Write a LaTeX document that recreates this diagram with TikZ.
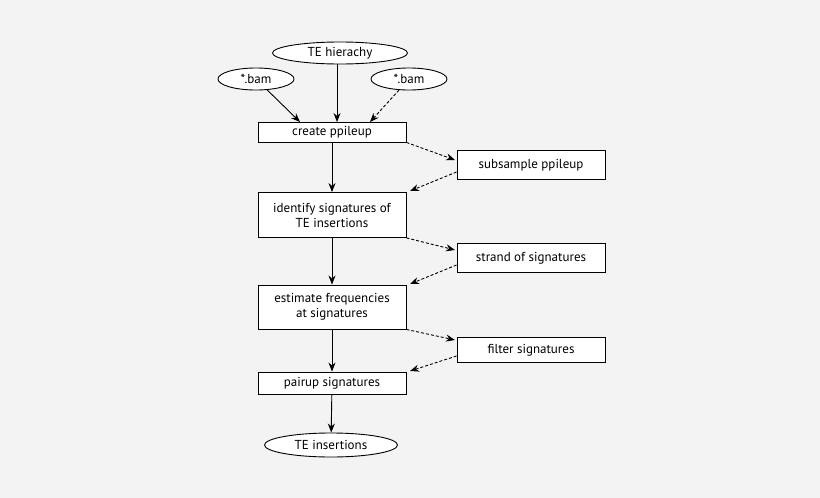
\documentclass[tikz,border=0pt]{standalone}
\usetikzlibrary{shapes.geometric,arrows.meta}
\usepackage{fontspec}
\setmainfont{PT Sans}
\begin{document}
\begin{tikzpicture}[x=1pt,y=-1pt,
  every node/.style={font=\fontsize{13}{15}\selectfont,align=center,inner sep=0pt,line width=0.9pt,draw=black,fill=white},
  box/.style={rectangle,minimum width=148pt},
  ell/.style={ellipse,minimum height=22pt},
  arr/.style={-{Stealth[length=9pt,width=7pt]},line width=0.9pt},
  darr/.style={arr,dash pattern=on 3pt off 2pt}]
\useasboundingbox[fill={rgb,255:red,243;green,243;blue,243}] (0,0) rectangle (820,498);
\node[ell,minimum width=135pt] (te) at (340,53) {TE hierachy};
\node[ell,minimum width=76pt] (b1) at (256,79) {*.bam};
\node[ell,minimum width=76pt] (b2) at (409,79) {*.bam};
\node[box,minimum height=20pt] (cp) at (332,132) {create ppileup};
\node[box,minimum height=29pt] (sp) at (531,165) {subsample ppileup};
\node[box,minimum height=45pt] (id) at (332,215) {identify signatures of\\TE insertions};
\node[box,minimum height=29pt] (st) at (531,258) {strand of signatures};
\node[box,minimum height=44pt] (es) at (332,307) {estimate frequencies\\at signatures};
\node[box,minimum height=25pt] (fi) at (531,350) {filter signatures};
\node[box,minimum height=22pt] (pa) at (332,383) {pairup signatures};
\node[ell,minimum width=133pt,minimum height=24pt] (ti) at (331,445) {TE insertions};
\coordinate (t1) at (337,122);
\coordinate (t2) at (300,122);
\coordinate (t3) at (370,122);
\coordinate (t4) at (455,160);
\coordinate (t5) at (410,191);
\coordinate (t6) at (455,250);
\coordinate (t7) at (410,284);
\coordinate (t8) at (455,340);
\coordinate (t9) at (410,371);
\draw[arr] (te.south -| t1) -- (t1);
\draw[arr] (b1) -- (t2);
\draw[darr] (b2) -- (t3);
\draw[darr] (cp.south east) -- (t4);
\draw[darr] (sp.west |- t4) ++(0,12) -- (t5);
\draw[darr] (id.south east) -- (t6);
\draw[darr] (st.west) ++(0,7) -- (t7);
\draw[darr] (es.south east) -- (t8);
\draw[darr] (fi.west) ++(0,6) -- (t9);
\draw[arr] (cp) -- (id);
\draw[arr] (id) -- (es);
\draw[arr] (es) -- (pa);
\draw[arr] (pa) -- (ti);
\end{tikzpicture}
\end{document}
